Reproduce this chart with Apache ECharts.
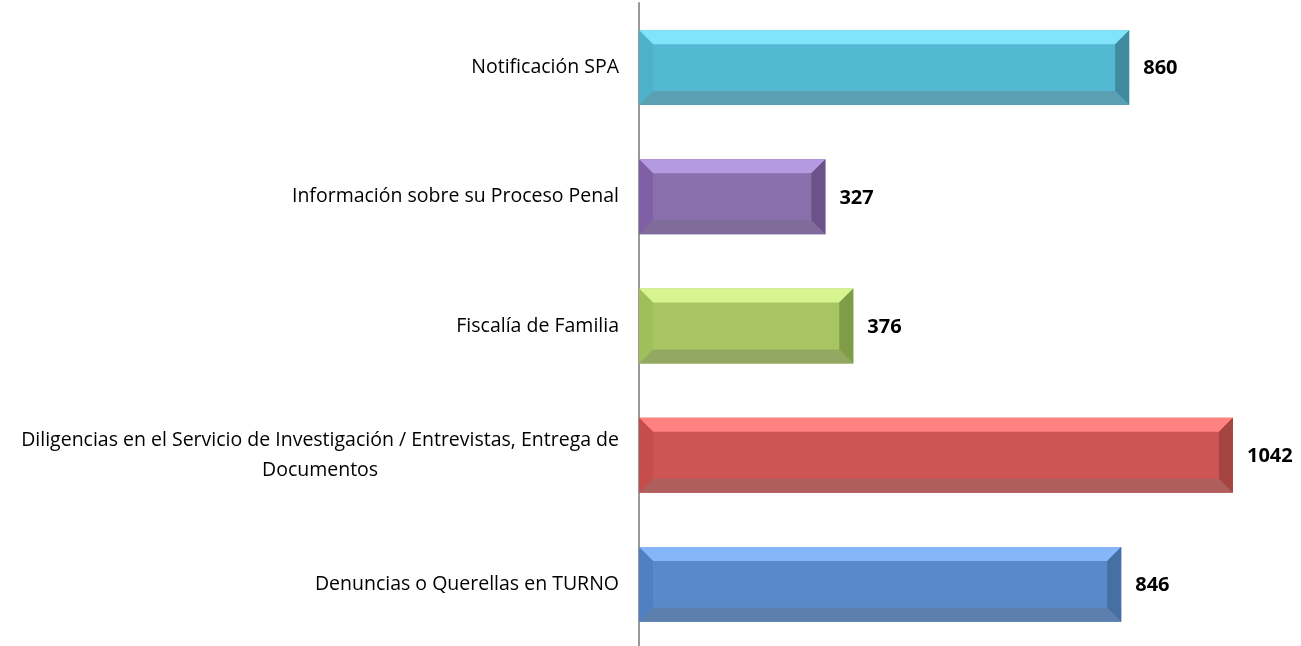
<!DOCTYPE html>
<html>
<head>
<meta charset="utf-8">
<script src="https://cdn.jsdelivr.net/npm/echarts@6/dist/echarts.min.js"></script>
<style>
  html, body { margin: 0; padding: 0; background: #fff; }
  #chart { width: 1301px; height: 646px; }
</style>
</head>
<body>
<div id="chart"></div>
<script>
// categories, top to bottom
const categories = [
  'Notificación SPA',
  'Información sobre su Proceso Penal',
  'Fiscalía de Familia',
  'Diligencias en el Servicio de Investigación / Entrevistas, Entrega de\nDocumentos',
  'Denuncias o Querellas en TURNO'
];
const values = [860, 327, 376, 1042, 846];

// bevel colours per bar: face, top, bottom, left, right
const palette = [
  ['#53b8d1', '#80e4fb', '#5aa0b2', '#4fb0ca', '#418ba0'],
  ['#8a6fad', '#b49ae0', '#7f6c9b', '#7f5fa5', '#6a5388'],
  ['#a7c663', '#d6f590', '#93a863', '#9dc05a', '#7f9c48'],
  ['#cd5654', '#ff8180', '#af5e5e', '#c54d4b', '#a44542'],
  ['#5889c9', '#84b6f8', '#5d7fad', '#5080c2', '#466fa3']
];

const FONT = '"Open Sans", Lato, sans-serif';

const chart = echarts.init(document.getElementById('chart'));

function renderBevel(params, api) {
  const idx = api.value(1);
  const val = api.value(0);
  const start = api.coord([0, idx]);
  const end = api.coord([val, idx]);
  const band = api.size([0, 1])[1];
  const h = band * 0.58;
  const x0 = start[0], x1 = end[0];
  const y0 = start[1] - h / 2, y1 = start[1] + h / 2;
  const b = 14;
  const c = palette[params.dataIndex];
  const poly = (pts, fill) => ({ type: 'polygon', shape: { points: pts }, style: { fill: fill } });
  return {
    type: 'group',
    children: [
      { type: 'rect', shape: { x: x0, y: y0, width: x1 - x0, height: y1 - y0 }, style: { fill: c[0] } },
      poly([[x0, y0], [x1, y0], [x1 - b, y0 + b], [x0 + b, y0 + b]], c[1]),
      poly([[x0, y1], [x1, y1], [x1 - b, y1 - b], [x0 + b, y1 - b]], c[2]),
      poly([[x0, y0], [x0 + b, y0 + b], [x0 + b, y1 - b], [x0, y1]], c[3]),
      poly([[x1, y0], [x1 - b, y0 + b], [x1 - b, y1 - b], [x1, y1]], c[4]),
      {
        type: 'text',
        style: {
          text: String(val),
          x: x1 + 14,
          y: start[1] + 1,
          verticalAlign: 'middle',
          fill: '#000',
          font: 'bold 20px ' + FONT
        }
      }
    ]
  };
}

chart.setOption({
  animation: false,
  grid: { left: 639, right: 35, top: 3, height: 646, outerBoundsMode: 'none' },
  xAxis: {
    type: 'value',
    min: 0,
    max: 1100,
    show: false
  },
  yAxis: {
    type: 'category',
    data: categories,
    inverse: true,
    axisLine: { show: true, lineStyle: { color: '#999', width: 2 } },
    axisTick: { show: false },
    splitLine: { show: false },
    axisLabel: {
      margin: 20,
      color: '#000',
      fontSize: 19.5,
      fontFamily: FONT,
      lineHeight: 30,
      formatter: (v) => v.split('\n').map(s => '{c|' + s + '}').join('\n'),
      rich: { c: { align: 'center', fontSize: 19.5, fontFamily: FONT, color: '#000', lineHeight: 30 } }
    }
  },
  series: [{
    type: 'custom',
    renderItem: renderBevel,
    encode: { x: 0, y: 1 },
    data: values.map((v, i) => [v, i])
  }]
});
</script>
</body>
</html>
